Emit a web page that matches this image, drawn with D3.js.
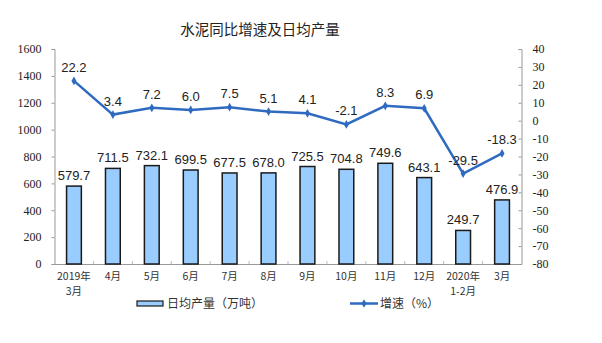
<!DOCTYPE html>
<html><head><meta charset="utf-8">
<script src="https://cdn.jsdelivr.net/npm/d3@7"></script>
<style>body{margin:0;background:#fff}svg{display:block}</style>
</head><body>
<script>
const categories = [["2019年","3月"],["4月"],["5月"],["6月"],["7月"],["8月"],["9月"],["10月"],["11月"],["12月"],["2020年","1-2月"],["3月"]];
const output = [579.7,711.5,732.1,699.5,677.5,678.0,725.5,704.8,749.6,643.1,249.7,476.9];
const growth = [22.2,3.4,7.2,6.0,7.5,5.1,4.1,-2.1,8.3,6.9,-29.5,-18.3];
const leftTicks = [0,200,400,600,800,1000,1200,1400,1600];
const rightTicks = [40,30,20,10,0,-10,-20,-30,-40,-50,-60,-70,-80];

const W=602,H=343;
const svg=d3.select("body").append("svg").attr("width",W).attr("height",H);
const x0=54.5,x1=521.5,yTop=49,yBot=264;
const x=d3.scaleBand().domain(d3.range(categories.length)).range([x0,x1]).paddingInner(0.62).paddingOuter(0.31);
const yL=d3.scaleLinear().domain([0,1600]).range([yBot,yTop]);
const yR=d3.scaleLinear().domain([-80,40]).range([yBot,yTop]);
const sans="'Noto Sans CJK SC','Liberation Sans',Arial,sans-serif";
const serif="'Liberation Serif','DejaVu Serif',serif";
const arial="'Liberation Sans',Arial,sans-serif";

svg.append("text").attr("x",260).attr("y",35).attr("text-anchor","middle")
  .attr("font-family",sans).attr("font-size",14.5).attr("fill","#222").text("水泥同比增速及日均产量");

// left axis
const gl=svg.append("g").attr("transform",`translate(${x0},0)`)
  .call(d3.axisLeft(yL).tickValues(leftTicks).tickSize(3).tickPadding(10).tickFormat(d=>String(d)));
gl.selectAll("text").attr("font-family",serif).attr("font-size",12).attr("fill","#222");
gl.selectAll("path,line").attr("stroke","#999");
// right axis
const gr=svg.append("g").attr("transform",`translate(${x1},0)`)
  .call(d3.axisLeft(yR).tickValues(rightTicks).tickSize(3).tickFormat(d=>String(d)));
gr.selectAll("text").attr("text-anchor","start").attr("x",11).attr("font-family",serif).attr("font-size",12).attr("fill","#222");
gr.selectAll("path,line").attr("stroke","#999");
// bottom axis
svg.append("line").attr("x1",x0).attr("x2",x1).attr("y1",yBot+0.5).attr("y2",yBot+0.5).attr("stroke","#999");
const step=x.step();
svg.selectAll(".bt").data(d3.range(1,categories.length)).join("line")
  .attr("x1",d=>x(d)-(step-x.bandwidth())/2).attr("x2",d=>x(d)-(step-x.bandwidth())/2)
  .attr("y1",yBot).attr("y2",yBot-3).attr("stroke","#bbb");

// bars
svg.selectAll(".bar").data(output).join("rect")
  .attr("x",(d,i)=>x(i)).attr("width",x.bandwidth())
  .attr("y",d=>yL(d)).attr("height",d=>yBot-yL(d))
  .attr("fill","#99ccff").attr("stroke","#1a1a1a").attr("stroke-width",1.5);
svg.selectAll(".bl").data(output).join("text")
  .attr("x",(d,i)=>x(i)+x.bandwidth()/2).attr("y",d=>yL(d)-6)
  .attr("text-anchor","middle").attr("font-family",arial).attr("font-size",13).attr("fill","#222")
  .text(d=>d.toFixed(1));

// line
const cx=i=>x(i)+x.bandwidth()/2;
svg.append("path").datum(growth)
  .attr("d",d3.line().x((d,i)=>cx(i)).y(d=>yR(d)))
  .attr("fill","none").attr("stroke","#2e6bc0").attr("stroke-width",2.5);
svg.selectAll(".pt").data(growth).join("path")
  .attr("transform",(d,i)=>`translate(${cx(i)},${yR(d)})`)
  .attr("d",d3.symbol(d3.symbolDiamond,22)).attr("fill","#2e6bc0");
svg.selectAll(".ll").data(growth).join("text")
  .attr("x",(d,i)=>cx(i)).attr("y",d=>yR(d)-9)
  .attr("text-anchor","middle").attr("font-family",arial).attr("font-size",13).attr("fill","#222")
  .text(d=>d.toFixed(1));

// category labels (one text per line)
const lines=[];
categories.forEach((c,i)=>c.forEach((t,j)=>lines.push({i,j,t})));
svg.selectAll(".cl").data(lines).join("text")
  .attr("x",d=>cx(d.i)).attr("y",d=>280+d.j*15)
  .attr("text-anchor","middle").attr("font-family",sans).attr("font-size",10.5).attr("fill","#333")
  .text(d=>d.t);

// legend
svg.append("rect").attr("x",137).attr("y",301).attr("width",26).attr("height",5)
  .attr("fill","#99ccff").attr("stroke","#1a1a1a").attr("stroke-width",1.2);
svg.append("text").attr("x",167).attr("y",308).attr("font-family",sans).attr("font-size",12).attr("fill","#333").text("日均产量（万吨）");
svg.append("line").attr("x1",350).attr("x2",378).attr("y1",303.5).attr("y2",303.5).attr("stroke","#2e6bc0").attr("stroke-width",2.5);
svg.append("path").attr("transform","translate(364,303.5)").attr("d",d3.symbol(d3.symbolDiamond,22)).attr("fill","#2e6bc0");
svg.append("text").attr("x",380).attr("y",308).attr("font-family",sans).attr("font-size",12).attr("fill","#333").text("增速（%）");
</script>
</body></html>
